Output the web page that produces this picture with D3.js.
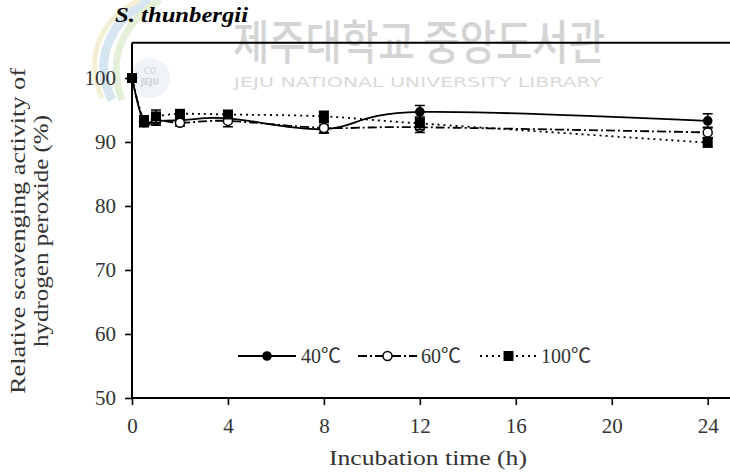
<!DOCTYPE html>
<html>
<head>
<meta charset="utf-8">
<script src="https://cdn.jsdelivr.net/npm/d3@7"></script>
<style>
  body { margin: 0; background: #fff; }
  svg { display: block; }
  .serif { font-family: "Liberation Serif", "Times New Roman", "DejaVu Serif", serif; }
</style>
</head>
<body>
<svg id="chart" width="730" height="473"></svg>
<script>
// Incubation times (h) and relative H2O2 scavenging activity (%)
const hours   = [0, 0.5, 1, 2, 4, 8, 12, 24];
const act40   = [100, 93.0, 93.3, 93.4, 93.7, 92.0, 94.7, 93.3];
const act60   = [100, 93.2, 93.5, 93.0, 93.3, 92.2, 92.3, 91.5];
const act100  = [100, 93.3, 94.0, 94.4, 94.3, 94.0, 92.9, 89.9];
const err40   = [0, 0.6, 0.7, 0.5, 0.6, 0.6, 1.0, 1.1];
const err60   = [0, 0.5, 0.6, 0.5, 0.9, 0.8, 0.8, 0.8];
const err100  = [0, 0.8, 1.0, 0.6, 0.5, 0.8, 1.0, 0.7];
const seriesLabels = ["40℃", "60℃", "100℃"];
const xTickValues = [0, 4, 8, 12, 16, 20, 24];
const yTickValues = [50, 60, 70, 80, 90, 100];

const svg = d3.select("#chart");

const x = d3.scaleLinear().domain([0, 24]).range([132, 707.7]);
const y = d3.scaleLinear().domain([50, 100]).range([398, 78]);
const yTop = 105.5;   // top of the plot frame

// ---- library watermark (faint) ----
const wm = svg.append("g");
const logo = wm.append("g");
logo.append("path")
  .attr("d", "M150,0 C110,20 92,60 112,100")
  .attr("fill", "none").attr("stroke", "#d6e6f1").attr("stroke-width", 9);
logo.append("path")
  .attr("d", "M160,0 C124,22 106,58 122,100")
  .attr("fill", "none").attr("stroke", "#e3efd6").attr("stroke-width", 7);
logo.append("path")
  .attr("d", "M140,0 C100,18 84,58 102,98")
  .attr("fill", "none").attr("stroke", "#f3efd4").attr("stroke-width", 5);
logo.append("circle").attr("cx", 150).attr("cy", 78).attr("r", 20)
  .attr("fill", "#f0f3f7");
logo.append("text").attr("x", 150).attr("y", 74).attr("text-anchor", "middle")
  .style("font-family", "'DejaVu Sans', sans-serif").style("font-size", "8px").attr("fill", "#cdd2d9").text("CO");
logo.append("text").attr("x", 150).attr("y", 85).attr("text-anchor", "middle")
  .style("font-family", "'DejaVu Sans', sans-serif").style("font-size", "8px").style("font-weight", "bold").attr("fill", "#cdd2d9").text("JEJU");

wm.append("text")
  .attr("x", 233).attr("y", 59)
  .style("font-family", "'Noto Sans CJK KR', sans-serif")
  .style("font-size", "47px").style("font-weight", "500")
  .attr("fill", "#d4d4d4")
  .attr("textLength", 372).attr("lengthAdjust", "spacingAndGlyphs")
  .text("제주대학교 중앙도서관");
wm.append("text")
  .attr("x", 234).attr("y", 87)
  .style("font-family", "'DejaVu Sans', sans-serif")
  .style("font-size", "14px")
  .attr("fill", "#dadada")
  .attr("textLength", 368).attr("lengthAdjust", "spacingAndGlyphs")
  .text("JEJU NATIONAL UNIVERSITY  LIBRARY");

// ---- title ----
svg.append("text")
  .attr("class", "serif")
  .attr("x", 115).attr("y", 22)
  .style("font-style", "italic").style("font-weight", "bold").style("font-size", "21px")
  .attr("fill", "#000")
  .attr("textLength", 133).attr("lengthAdjust", "spacingAndGlyphs")
  .text("S. thunbergii");

// ---- frame ----
svg.append("path")
  .attr("d", `M${x(0)},${y(yTop)} H740 M${x(0)},${y(yTop)} V${y(50)} H740`)
  .attr("fill", "none").attr("stroke", "#000").attr("stroke-width", 2);

// ---- axes ----
const yAxis = svg.append("g")
  .attr("transform", `translate(${x(0)},0)`)
  .call(d3.axisLeft(y).tickValues(yTickValues).tickSize(7).tickSizeOuter(0).tickPadding(9));
const xAxis = svg.append("g")
  .attr("transform", `translate(0,${y(50)})`)
  .call(d3.axisBottom(x).tickValues(xTickValues).tickSize(7).tickSizeOuter(0).tickPadding(13));
[yAxis, xAxis].forEach(g => {
  g.attr("font-family", null).attr("font-size", null);
  g.select(".domain").remove();
  g.selectAll(".tick line").attr("stroke", "#000").attr("stroke-width", 1.6);
  g.selectAll(".tick text").attr("class", "serif")
    .style("font-size", "21px").attr("fill", "#333");
});

// ---- axis titles ----
svg.append("text")
  .attr("class", "serif")
  .attr("transform", "translate(25,231) rotate(-90)")
  .attr("text-anchor", "middle")
  .style("font-size", "20px").attr("fill", "#333")
  .attr("textLength", 326).attr("lengthAdjust", "spacingAndGlyphs")
  .text("Relative scavenging activity of");
svg.append("text")
  .attr("class", "serif")
  .attr("transform", "translate(48,231) rotate(-90)")
  .attr("text-anchor", "middle")
  .style("font-size", "20px").attr("fill", "#333")
  .attr("textLength", 232).attr("lengthAdjust", "spacingAndGlyphs")
  .text("hydrogen peroxide (%)");
svg.append("text")
  .attr("class", "serif")
  .attr("x", 428).attr("y", 465)
  .attr("text-anchor", "middle")
  .style("font-size", "20px").attr("fill", "#333")
  .attr("textLength", 198).attr("lengthAdjust", "spacingAndGlyphs")
  .text("Incubation time (h)");

// ---- series ----
const series = [
  { label: seriesLabels[0], values: act40,  errors: err40,  dash: null,      marker: "dot" },
  { label: seriesLabels[1], values: act60,  errors: err60,  dash: "9,3,2,3", marker: "ring" },
  { label: seriesLabels[2], values: act100, errors: err100, dash: "2,4",     marker: "square" }
];

const line = d3.line()
  .x(d => x(d[0])).y(d => y(d[1]))
  .curve(d3.curveCardinal.tension(0));

function drawMarker(g, kind, cx, cy) {
  if (kind === "dot") {
    g.append("circle").attr("cx", cx).attr("cy", cy).attr("r", 4.8).attr("fill", "#000");
  } else if (kind === "ring") {
    g.append("circle").attr("cx", cx).attr("cy", cy).attr("r", 4.5)
      .attr("fill", "#fff").attr("stroke", "#000").attr("stroke-width", 1.5);
  } else {
    g.append("rect").attr("x", cx - 5).attr("y", cy - 5).attr("width", 10).attr("height", 10).attr("fill", "#000");
  }
}

series.forEach(s => {
  const pts = hours.map((h, i) => [h, s.values[i]]);
  svg.append("path")
    .attr("d", line(pts))
    .attr("fill", "none").attr("stroke", "#000").attr("stroke-width", 1.8)
    .attr("stroke-dasharray", s.dash);
});

series.forEach(s => {
  const g = svg.append("g");
  hours.forEach((h, i) => {
    const e = s.errors[i];
    if (e > 0) {
      const cx = x(h), top = y(s.values[i] + e), bot = y(s.values[i] - e);
      g.append("path")
        .attr("d", `M${cx},${top} V${bot} M${cx - 5},${top} H${cx + 5} M${cx - 5},${bot} H${cx + 5}`)
        .attr("stroke", "#000").attr("stroke-width", 1.5).attr("fill", "none");
    }
    drawMarker(g, s.marker, x(h), y(s.values[i]));
  });
});

// ---- legend ----
const legendY = 356;
const legendItems = [
  { x0: 238, x1: 296, tx: 301 },
  { x0: 358, x1: 417, tx: 421 },
  { x0: 480, x1: 537, tx: 541 }
];
series.forEach((s, i) => {
  const it = legendItems[i];
  svg.append("line")
    .attr("x1", it.x0).attr("x2", it.x1).attr("y1", legendY).attr("y2", legendY)
    .attr("stroke", "#000").attr("stroke-width", 1.8).attr("stroke-dasharray", s.dash);
  drawMarker(svg, s.marker, (it.x0 + it.x1) / 2, legendY);
  svg.append("text")
    .attr("x", it.tx).attr("y", legendY + 7)
    .style("font-family", "'Liberation Serif', 'Noto Sans CJK KR', serif")
    .style("font-size", "20px").attr("fill", "#333")
    .text(s.label);
});
</script>
</body>
</html>
